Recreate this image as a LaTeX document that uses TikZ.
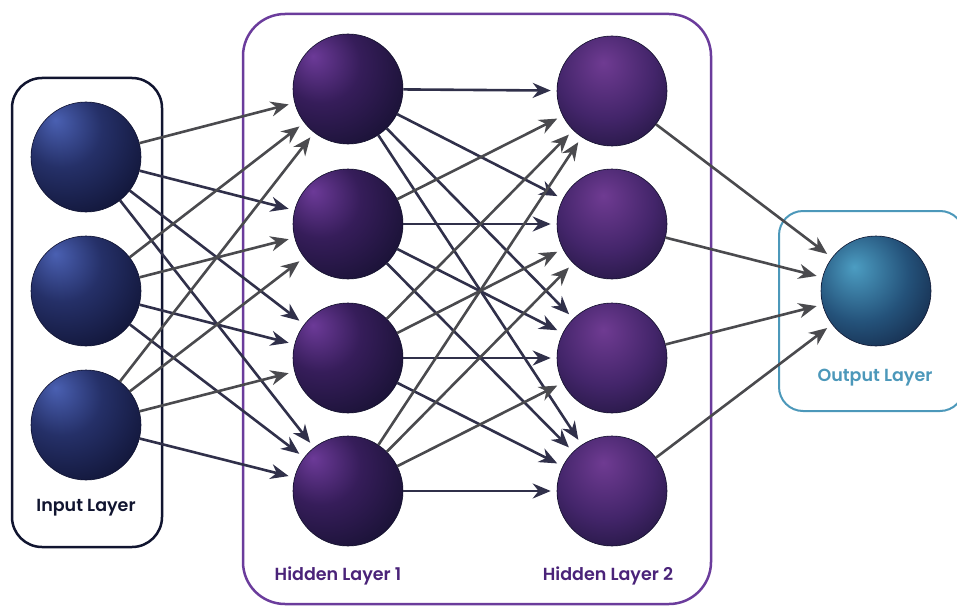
\documentclass[tikz,border=0pt]{standalone}
\usepackage{fontspec}
\setmainfont{Poppins}[UprightFont={* SemiBold}]
\usetikzlibrary{arrows.meta}
\definecolor{inhi}{HTML}{4A60B2}
\definecolor{inmid}{HTML}{253068}
\definecolor{indk}{HTML}{0E1130}
\definecolor{hahi}{HTML}{6C3A98}
\definecolor{hamid}{HTML}{361D5A}
\definecolor{hadk}{HTML}{110F2B}
\definecolor{hbhi}{HTML}{6F3B92}
\definecolor{hbmid}{HTML}{43256A}
\definecolor{hbdk}{HTML}{110F2B}
\definecolor{ouhi}{HTML}{4C9DC2}
\definecolor{oumid}{HTML}{24527A}
\definecolor{oudk}{HTML}{0D1430}
\definecolor{inbox}{HTML}{111530}
\definecolor{hidbox}{HTML}{6B3C9C}
\definecolor{hidtxt}{HTML}{4A2379}
\definecolor{outbox}{HTML}{4C98BA}
\definecolor{arrgray}{HTML}{4A4A4E}
\definecolor{arrnavy}{HTML}{30304A}
\pgfdeclareradialshading{inball}{\pgfpoint{-14bp}{17bp}}{color(0bp)=(inhi); color(18bp)=(inmid); color(42bp)=(indk); color(80bp)=(indk)}
\pgfdeclareradialshading{haball}{\pgfpoint{-16bp}{15bp}}{color(0bp)=(hahi); color(18bp)=(hamid); color(44bp)=(hadk); color(80bp)=(hadk)}
\pgfdeclareradialshading{hbball}{\pgfpoint{-4bp}{13bp}}{color(0bp)=(hbhi); color(22bp)=(hbmid); color(46bp)=(hbdk); color(80bp)=(hbdk)}
\pgfdeclareradialshading{ouball}{\pgfpoint{-10bp}{11bp}}{color(0bp)=(ouhi); color(22bp)=(oumid); color(46bp)=(oudk); color(80bp)=(oudk)}
\tikzset{
  neuron/.style={circle, minimum size=110pt, inner sep=0pt, line width=0.6pt},
  conn/.style={line width=2.6pt, arrgray, -{Stealth[length=18pt,width=15pt]}, shorten >=6pt},
  connd/.style={conn, arrnavy},
  lbl/.style={font=\fontsize{17.5}{20}\selectfont},
  layerbox/.style={line width=2.5pt}
}
\begin{document}
\begin{tikzpicture}[x=1pt,y=-1pt]
\useasboundingbox (0,0) rectangle (957,607);
\fill[white] (0,0) rectangle (957,607);
% boxes
\draw[layerbox, inbox, rounded corners=30pt] (12,78) rectangle (162,547);
\draw[layerbox, hidbox, rounded corners=42pt] (243,14) rectangle (711,604);
\draw[line width=2pt, outbox, rounded corners=24pt] (779,211) rectangle (964,411);
% neurons
\node[neuron, shading=inball, draw=indk] (i1) at (86,157) {};
\node[neuron, shading=inball, draw=indk] (i2) at (86,291) {};
\node[neuron, shading=inball, draw=indk] (i3) at (86,425) {};
\node[neuron, shading=haball, draw=hadk] (a1) at (348,89) {};
\node[neuron, shading=haball, draw=hadk] (a2) at (348,224) {};
\node[neuron, shading=haball, draw=hadk] (a3) at (348,358) {};
\node[neuron, shading=haball, draw=hadk] (a4) at (348,491) {};
\node[neuron, shading=hbball, draw=hbdk] (b1) at (612,91) {};
\node[neuron, shading=hbball, draw=hbdk] (b2) at (612,224) {};
\node[neuron, shading=hbball, draw=hbdk] (b3) at (612,358) {};
\node[neuron, shading=hbball, draw=hbdk] (b4) at (612,491) {};
\node[neuron, shading=ouball, draw=oudk] (o) at (876,291) {};
% labels
\node[lbl, text=inbox] (lin) at (86,508) {Input Layer};
\node[lbl, text=hidtxt] (lh1) at (338,576) {Hidden Layer 1};
\node[lbl, text=hidtxt] (lh2) at (608,576) {Hidden Layer 2};
\node[lbl, text=outbox] (lout) at (875,378) {Output Layer};
% connections
\foreach \s in {1,2,3}{
  \foreach \t in {1,2,3,4}{
    \pgfmathtruncatemacro{\up}{(\s*1.34-0.3) > (\t*1.0) ? 1 : 0}
    \ifnum\up=1 \draw[conn] (i\s) -- (a\t); \else \draw[connd] (i\s) -- (a\t); \fi
  }
}
\foreach \s in {1,2,3,4}{
  \foreach \t in {1,2,3,4}{
    \ifnum\s>\t \draw[conn] (a\s) -- (b\t); \else \draw[connd] (a\s) -- (b\t); \fi
  }
}
\foreach \s in {1,2,3,4}{
  \draw[conn] (b\s) -- (o);
}
\end{tikzpicture}
\end{document}
